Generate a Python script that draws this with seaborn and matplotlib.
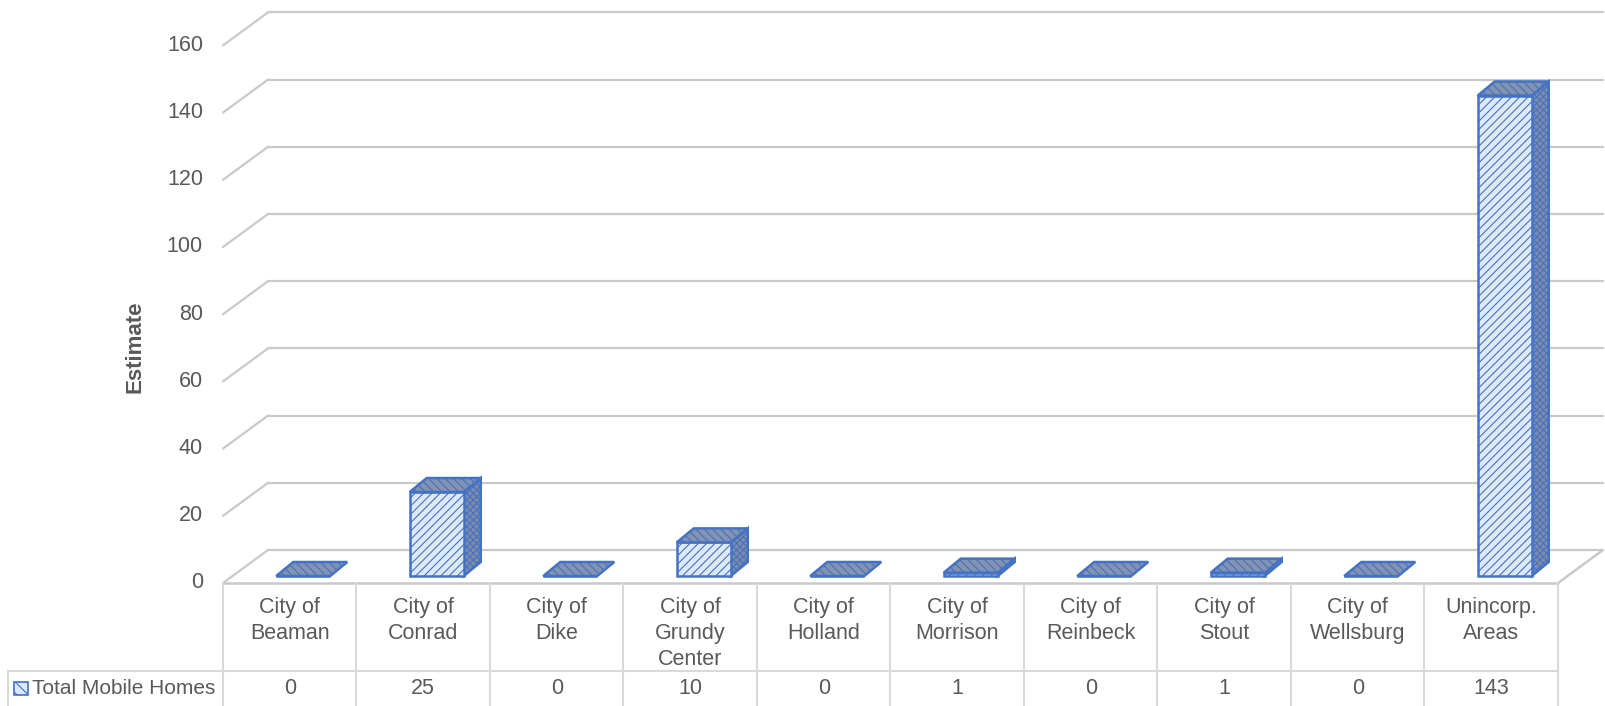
import matplotlib
matplotlib.use("Agg")
import matplotlib.pyplot as plt
from matplotlib.patches import Polygon, Rectangle
import seaborn as sns
import pandas as pd

# ---- data ----
categories = ["City of\nBeaman", "City of\nConrad", "City of\nDike", "City of\nGrundy\nCenter",
              "City of\nHolland", "City of\nMorrison", "City of\nReinbeck", "City of\nStout",
              "City of\nWellsburg", "Unincorp.\nAreas"]
values = [0, 25, 0, 10, 0, 1, 0, 1, 0, 143]
series_name = "Total Mobile Homes"
y_ticks = [0, 20, 40, 60, 80, 100, 120, 140, 160]
y_label = "Estimate"

sns.set_theme(style="white")
plt.rcParams["font.family"] = ["Liberation Sans", "DejaVu Sans"]
plt.rcParams["hatch.linewidth"] = 0.8

W, H, DPI = 1606, 706, 100
fig = plt.figure(figsize=(W / DPI, H / DPI), dpi=DPI)
ax = fig.add_axes([0, 0, 1, 1])

# pixel -> data helpers (layout only)
PX_L, PX_R, N = 223, 1558, len(categories)
PPC = (PX_R - PX_L) / N          # pixels per category
PY0, PPU = 583, 3.36             # pixel row of value 0 (front), pixels per unit


def px2x(px):
    return -0.5 + (px - PX_L) / PPC


def py2y(py):
    return (PY0 - py) / PPU


DX, DY = 45 / PPC, 33 / PPU      # floor depth (oblique)
FX, BY = 13.5 / PPC, 7 / PPU     # bar front offset
BDX, BDY = 17 / PPC, 14 / PPU    # bar depth
BW = 54 / PPC

blue = "#4472c4"
grid_c = "#c9c9c9"
txt_c = "#595959"
FS = 15.5

df = pd.DataFrame({"cat": categories, "val": values})
sns.barplot(data=df, x="cat", y="val", order=categories, width=BW, color="#dce9f9",
            edgecolor=blue, linewidth=1.8, hatch="////", ax=ax, zorder=4, saturation=1)

# walls / gridlines
for v in y_ticks:
    ax.plot([-0.5, -0.5 + DX], [v, v + DY], color=grid_c, lw=1.6, zorder=1, solid_capstyle="round")
    ax.plot([-0.5 + DX, N - 0.5 + DX], [v + DY, v + DY], color=grid_c, lw=1.6, zorder=1)
    ax.text(px2x(203), v, str(v), ha="right", va="center", fontsize=FS, color=txt_c)
ax.plot([-0.5, N - 0.5], [0, 0], color=grid_c, lw=1.8, zorder=1)
ax.plot([N - 0.5, N - 0.5 + DX], [0, DY], color=grid_c, lw=1.8, zorder=1)

# 3D faces
for p, v in zip(ax.patches, values):
    p.set_x(p.get_x() + FX)
    p.set_y(BY)
    x0 = p.get_x()
    x1 = x0 + p.get_width()
    y0 = BY
    yt = y0 + p.get_height()
    if v > 0:
        side = Polygon([(x1, y0), (x1 + BDX, y0 + BDY), (x1 + BDX, yt + BDY), (x1, yt)],
                       closed=True, facecolor="#7f8ca6", edgecolor=blue, lw=1.8,
                       hatch="xxxxx", zorder=3)
        ax.add_patch(side)
    top = Polygon([(x0, yt), (x1, yt), (x1 + BDX, yt + BDY), (x0 + BDX, yt + BDY)],
                  closed=True, facecolor="#8393b0", edgecolor=blue, lw=1.8,
                  hatch="\\\\\\\\", zorder=5)
    ax.add_patch(top)

# data table
tb_c = "#d9d9d9"
y_bot = py2y(H)
y_row = py2y(671)
for k in range(N + 1):
    ax.plot([-0.5 + k, -0.5 + k], [0, y_bot], color=tb_c, lw=1.5, zorder=1)
ax.plot([px2x(8), N - 0.5], [y_row, y_row], color=tb_c, lw=1.5, zorder=1)
ax.plot([px2x(8), px2x(8)], [y_row, y_bot], color=tb_c, lw=1.5, zorder=1)

for i, (c, v) in enumerate(zip(categories, values)):
    ax.text(i, py2y(597), c, ha="center", va="top", fontsize=FS, color=txt_c,
            linespacing=1.3)
    ax.text(i, py2y(688), str(v), ha="center", va="center", fontsize=FS, color=txt_c)

# legend key
ax.add_patch(Rectangle((px2x(14), py2y(695)), 14 / PPC, 13 / PPU, facecolor="#dce9f9",
                       edgecolor=blue, lw=1.2, hatch="\\\\\\", zorder=5, clip_on=False))
ax.text(px2x(32), py2y(688), series_name, ha="left", va="center", fontsize=15, color=txt_c)

# y label
ax.text(px2x(135), py2y(347), y_label, rotation=90, ha="center", va="center",
        fontsize=16, fontweight="bold", color=txt_c)

ax.set_xlim(px2x(0), px2x(W))
ax.set_ylim(py2y(H), py2y(0))
ax.set_axis_off()

fig.savefig("out.png", dpi=DPI)
